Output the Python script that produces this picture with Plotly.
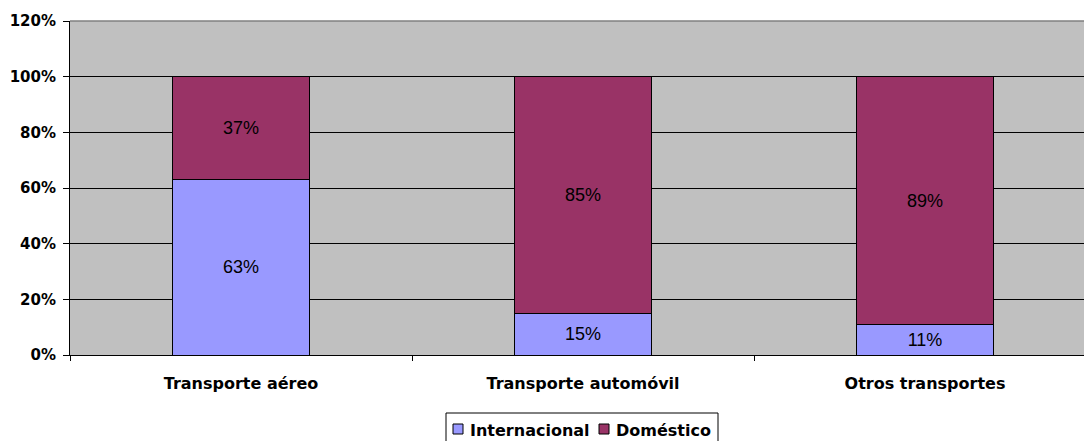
import plotly.graph_objects as go

categories = ["Transporte aéreo", "Transporte automóvil", "Otros transportes"]
internacional = [63, 15, 11]
domestico = [37, 85, 89]
y_ticks = [0, 20, 40, 60, 80, 100, 120]
series_names = ["Internacional", "Doméstico"]
series_colors = ["#9999FF", "#993366"]

FONT = "Liberation Sans, Arial, sans-serif"
BOLD = "DejaVu Sans, Verdana, sans-serif"
xpos = list(range(len(categories)))

W, H = 1084, 441
# target plot area in window pixels: left 70, top 21, bottom 355;
# the plot area runs past the right edge of the window (category width 342px)
CAT_PX = 342
ML, MT, MR = 70, 21, 0
MB = H - 355
PW, PH = W - ML - MR, H - MT - MB
X_MAX = -0.5 + PW / CAT_PX


def px_x(px):  # window pixel -> paper x
    return (px - ML) / PW


def px_y(py):  # window pixel -> paper y
    return (H - MB - py) / PH


fig = go.Figure()
for name, vals, col in zip(series_names, [internacional, domestico], series_colors):
    fig.add_trace(go.Bar(
        name=name, x=xpos, y=vals,
        marker=dict(color=col, line=dict(color="#000000", width=1)),
        text=[f"{v}%" for v in vals], textposition="inside",
        insidetextanchor="middle",
        textfont=dict(family=FONT, size=18, color="#000000"),
        constraintext="none", showlegend=False,
    ))
# invisible trace for boundary tick marks on overlay axis
fig.add_trace(go.Scatter(x=[-0.5, 2.4], y=[0, 0], xaxis="x2", mode="markers",
                         marker=dict(opacity=0), showlegend=False, hoverinfo="skip"))

shapes = [dict(type="line", xref="paper", yref="paper", x0=0, x1=1, y0=1, y1=1,
               line=dict(color="#808080", width=1.5), layer="above")]
annotations = []

# manual legend
shapes.append(dict(type="rect", xref="paper", yref="paper",
                   x0=px_x(446), x1=px_x(718), y0=px_y(447), y1=px_y(413),
                   line=dict(color="#000000", width=1), fillcolor="white", layer="above"))
legend_items = [(453, 469), (599, 615)]
for (sq_x, tx), name, col in zip(legend_items, series_names, series_colors):
    shapes.append(dict(type="rect", xref="paper", yref="paper",
                       x0=px_x(sq_x), x1=px_x(sq_x + 10), y0=px_y(434), y1=px_y(424),
                       line=dict(color="#000000", width=1), fillcolor=col, layer="above"))
    annotations.append(dict(text=f"<b>{name}</b>", xref="paper", yref="paper",
                            x=px_x(tx - 1), y=px_y(430), xanchor="left", yanchor="middle",
                            showarrow=False, font=dict(family=BOLD, size=16, color="#000000")))

fig.update_layout(
    barmode="stack",
    bargap=0.602,
    width=W, height=H,
    margin=dict(l=ML, r=MR, t=MT, b=MB, autoexpand=False),
    paper_bgcolor="white",
    plot_bgcolor="#C0C0C0",
    font=dict(family=FONT, color="#000000"),
    showlegend=False,
    xaxis=dict(
        range=[-0.5, X_MAX], tickvals=xpos, ticktext=[f"<b>{c}</b>" for c in categories],
        tickfont=dict(family=BOLD, size=16, color="#000000"),
        ticks="", showgrid=False, zeroline=False,
        showline=True, linecolor="#000000", linewidth=1,
        ticklabelstandoff=14, automargin=False,
    ),
    xaxis2=dict(
        range=[-0.5, X_MAX], overlaying="x", side="bottom",
        tickvals=[-0.5, 0.5, 1.5], ticktext=["", "", ""],
        ticks="outside", ticklen=5, tickcolor="#000000", tickwidth=1,
        showgrid=False, zeroline=False, showline=False, automargin=False,
    ),
    yaxis=dict(
        range=[0, 120], tickvals=y_ticks, ticktext=[f"<b>{v}%</b>" for v in y_ticks],
        tickfont=dict(family=BOLD, size=15, color="#000000"),
        showgrid=True, gridcolor="#000000", gridwidth=1,
        ticks="outside", ticklen=6, tickcolor="#000000",
        showline=True, linecolor="#000000", linewidth=1, zeroline=False,
        ticklabelstandoff=4, automargin=False,
    ),
    shapes=shapes,
    annotations=annotations,
)

fig.write_html(
    "out.html",
    config={"displayModeBar": False},
    post_script=(
        "document.body.style.margin='0';"
        "document.body.style.overflow='hidden';"
        "document.documentElement.style.overflow='hidden';"
    ),
)
